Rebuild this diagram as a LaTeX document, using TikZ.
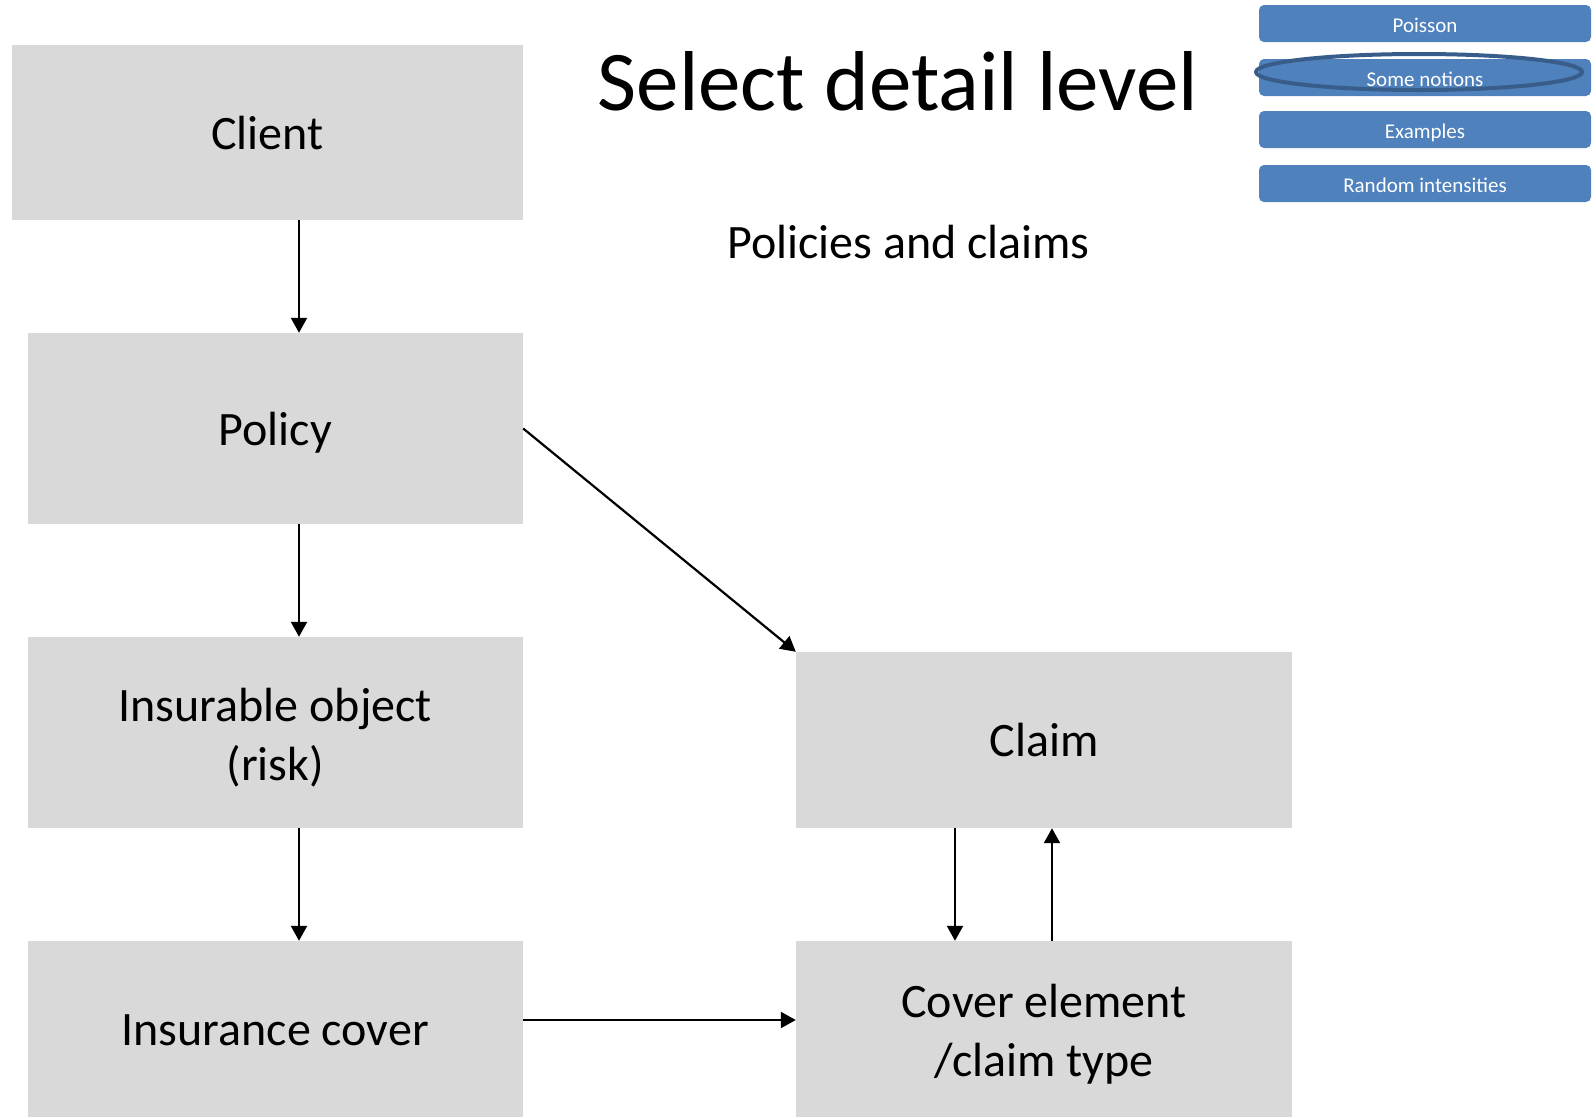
\documentclass[tikz,border=0pt]{standalone}
\usepackage{fontspec}
\setmainfont{Carlito}
\usetikzlibrary{arrows.meta}
\definecolor{boxgray}{HTML}{D9D9D9}
\definecolor{btnblue}{HTML}{4F81BD}
\definecolor{ringblue}{HTML}{385D8A}
\newcommand{\toppad}{\rule{0pt}{43pt}}
\begin{document}
\begin{tikzpicture}[x=1pt,y=-1pt,
  box/.style={fill=boxgray, draw=none, inner sep=0pt, align=center,
    font=\fontsize{48}{59}\selectfont},
  onebox/.style={box, text height=46pt, text depth=13pt},
  btn/.style={fill=btnblue, draw=none, rounded corners=5pt, inner sep=0pt,
    minimum width=332pt, minimum height=37pt, text=white,
    font=\fontsize{21}{25}\selectfont, text height=19pt, text depth=2pt},
  arr/.style={line width=2.2pt, -{Triangle[length=15pt,width=16pt]}},
  ring/.style={draw=ringblue, line width=4pt}]
\useasboundingbox (0,0) rectangle (1596,1117);

% boxes
\node[onebox, minimum width=511pt, minimum height=175pt] (client) at (267.5,132.5) {Client};
\node[onebox, minimum width=495.5pt, minimum height=191pt] (policy) at (275.25,428.5) {Policy};
\node[box, minimum width=495.5pt, minimum height=191pt] (object) at (275.25,732.5) {\toppad Insurable object\\(risk)};
\node[onebox, minimum width=495.5pt, minimum height=176pt] (insc) at (275.25,1029) {Insurance cover};
\node[onebox, minimum width=496pt, minimum height=176pt] (claim) at (1044,740) {Claim};
\node[box, minimum width=496pt, minimum height=176pt] (cover) at (1044,1029) {\toppad Cover element\\/claim type};

% titles
\node[anchor=base, inner sep=0pt, font=\fontsize{85}{102}\selectfont] (title) at (898,110) {Select detail level};
\node[anchor=base, inner sep=0pt, font=\fontsize{48}{59}\selectfont] (sub) at (908.5,258) {Policies and claims};

% buttons
\node[btn] (b1) at (1425,23.5) {Poisson};
\node[btn] (b2) at (1425,77.5) {Some notions};
\node[btn] (b3) at (1425,129.5) {Examples};
\node[btn] (b4) at (1425,183.5) {Random intensities};
\draw[ring] (1419,72) ellipse [x radius=163pt, y radius=18pt];

% connectors
\coordinate (xl) at (299,0);
\coordinate (xd) at (955,0);
\coordinate (xu) at (1052,0);
\coordinate (yb) at (0,1020);
\draw[arr] (client.south -| xl) -- (policy.north -| xl);
\draw[arr] (policy.south -| xl) -- (object.north -| xl);
\draw[arr] (object.south -| xl) -- (insc.north -| xl);
\draw[arr] (policy.east) -- (claim.north west);
\draw[arr] (insc.east |- yb) -- (cover.west |- yb);
\draw[arr] (claim.south -| xd) -- (cover.north -| xd);
\draw[arr] (cover.north -| xu) -- (claim.south -| xu);
\end{tikzpicture}
\end{document}
